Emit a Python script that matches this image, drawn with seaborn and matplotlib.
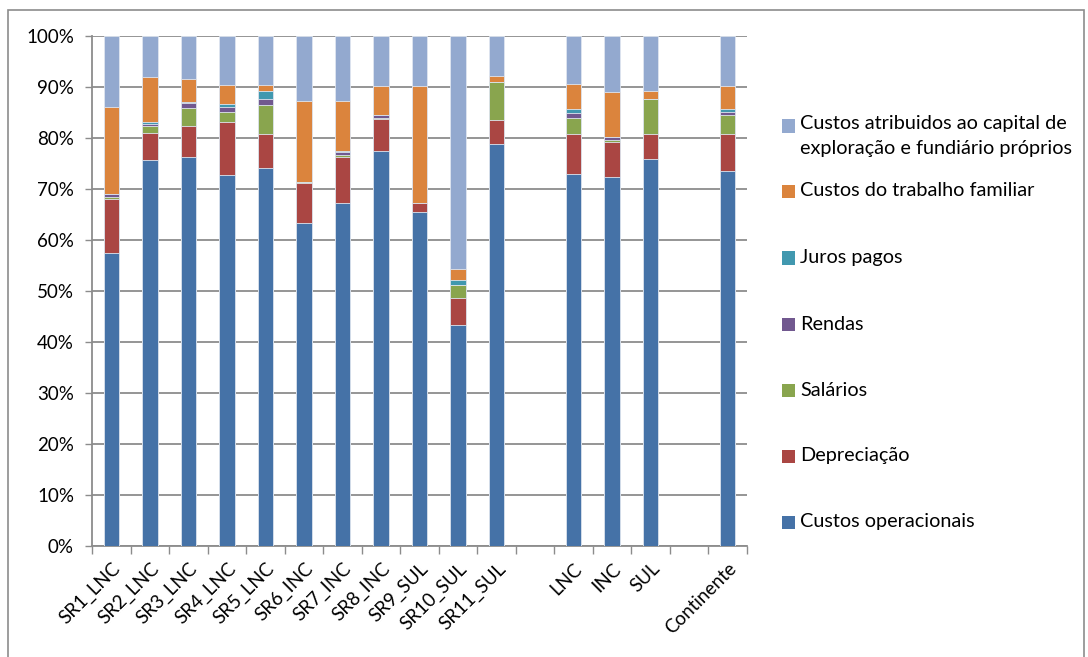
import numpy as np
import pandas as pd
import seaborn as sns
import matplotlib.pyplot as plt
from matplotlib.patches import Rectangle
from matplotlib.ticker import FixedLocator, FuncFormatter

# Regions (bars) and the category slots along the x axis (two empty slots as separators)
regions = ["SR1_LNC", "SR2_LNC", "SR3_LNC", "SR4_LNC", "SR5_LNC", "SR6_INC",
           "SR7_INC", "SR8_INC", "SR9_SUL", "SR10_SUL", "SR11_SUL",
           "LNC", "INC", "SUL", "Continente"]
axis_order = regions[:11] + [" "] + ["LNC", "INC", "SUL"] + ["  "] + ["Continente"]

# Cost structure, % of total costs (bottom to top of each stack)
custos_operacionais = [57.4, 75.6, 76.2, 72.7, 74.1, 63.3, 67.2, 77.5, 65.5, 43.3, 78.8, 73.0, 72.4, 75.8, 73.5]
depreciacao         = [10.6, 5.3, 6.2, 10.4, 6.7, 7.9, 9.1, 6.2, 1.7, 5.4, 4.8, 7.8, 6.9, 5.0, 7.2]
salarios            = [0.5, 1.5, 3.4, 2.0, 5.6, 0.1, 0.4, 0.2, 0.0, 2.4, 7.4, 3.2, 0.3, 6.8, 3.8]
rendas              = [0.5, 0.4, 1.0, 0.9, 1.3, 0.0, 0.6, 0.6, 0.0, 0.0, 0.0, 0.9, 0.5, 0.0, 0.6]
juros_pagos         = [0.1, 0.3, 0.3, 0.7, 1.6, 0.0, 0.1, 0.0, 0.0, 1.1, 0.0, 0.7, 0.0, 0.1, 0.5]
trabalho_familiar   = [17.0, 8.8, 4.5, 3.6, 1.0, 16.0, 9.9, 5.6, 22.9, 2.2, 1.2, 5.0, 8.9, 1.5, 4.6]
capital_proprio     = [13.9, 8.1, 8.4, 9.7, 9.7, 12.7, 12.7, 9.9, 9.9, 45.6, 7.8, 9.4, 11.0, 10.8, 9.8]

series_names = ["Custos operacionais", "Depreciação", "Salários", "Rendas", "Juros pagos",
                "Custos do trabalho familiar",
                "Custos atribuidos ao capital de\nexploração e fundiário próprios"]
series_values = [custos_operacionais, depreciacao, salarios, rendas, juros_pagos,
                 trabalho_familiar, capital_proprio]
series_colors = ["#4572A7", "#AA4643", "#89A54E", "#71588F", "#4198AF", "#DB843D", "#93A9CF"]

sns.set_theme(style="white")
plt.rcParams["font.family"] = ["Lato", "DejaVu Sans"]

W, H = 1088, 657
fig = plt.figure(figsize=(W / 100, H / 100), dpi=100)
ax = fig.add_axes([92 / W, (H - 546) / H, (747 - 92) / W, (546 - 36) / H])

df = pd.DataFrame({"regiao": regions})
cum = np.cumsum(np.array(series_values), axis=0)

# Stacked bars: draw cumulative totals from the top layer down
for i in range(len(series_names) - 1, -1, -1):
    df["valor"] = cum[i]
    sns.barplot(data=df, x="regiao", y="valor", order=axis_order, color=series_colors[i],
                saturation=1, width=0.4, errorbar=None, ax=ax,
                edgecolor="#dfe6f0", linewidth=0.6, zorder=3)

ax.set_ylim(0, 100)
ax.set_xlim(-0.5, len(axis_order) - 0.5)
ax.set_xlabel("")
ax.set_ylabel("")

# Y axis: percentages with horizontal gridlines
ax.yaxis.set_major_locator(FixedLocator(np.arange(0, 101, 10)))
ax.yaxis.set_major_formatter(FuncFormatter(lambda v, p: f"{v:.0f}%"))
ax.yaxis.grid(True, color="#8c8c8c", linewidth=1.3, zorder=0)
ax.set_axisbelow(True)
ax.tick_params(axis="y", which="major", length=5, width=1, color="#8c8c8c",
               pad=8, labelsize=13.5, labelcolor="#000000", left=True)

# X axis: ticks at category boundaries, labels at category centres
labels = list(axis_order)
ax.xaxis.set_major_locator(FixedLocator(np.arange(-0.5, len(axis_order), 1.0)))
ax.xaxis.set_major_formatter(FuncFormatter(lambda v, p: ""))
ax.set_xticks(np.arange(len(axis_order)), labels=[l.strip() for l in labels], minor=True)
ax.tick_params(axis="x", which="major", length=6, width=1, color="#8c8c8c", bottom=True)
ax.tick_params(axis="x", which="minor", length=0, pad=10, labelsize=13.5, labelcolor="#000000")
for t in ax.get_xticklabels(minor=True):
    t.set_rotation(45)
    t.set_ha("right")
    t.set_va("top")
    t.set_rotation_mode("anchor")

for s in ["top", "right"]:
    ax.spines[s].set_visible(False)
for s in ["left", "bottom"]:
    ax.spines[s].set_color("#8c8c8c")
    ax.spines[s].set_linewidth(1.3)

# Legend (top entry is listed first, as stacked)
legend_y = [126, 191, 258, 324, 390, 456, 522][::-1]
for name, color, yc in zip(series_names, series_colors, legend_y):
    fig.add_artist(Rectangle((782 / W, 1 - (yc + 6.5) / H), 13 / W, 13 / H,
                             transform=fig.transFigure, facecolor=color, edgecolor="none"))
    if "\n" in name:
        fig.text(800 / W, 1 - (yc - 11) / H, name, ha="left", va="top",
                 fontsize=14.3, color="#000000", linespacing=1.55)
    else:
        fig.text(800 / W, 1 - yc / H, name, ha="left", va="center",
                 fontsize=14.3, color="#000000")

# Chart area frame
fig.add_artist(Rectangle((8 / W, -0.05), (1084 - 8) / W, (H - 10) / H + 0.05,
                         transform=fig.transFigure, fill=False,
                         edgecolor="#8c8c8c", linewidth=1.2))

fig.savefig("out.png", dpi=100, facecolor="white")
